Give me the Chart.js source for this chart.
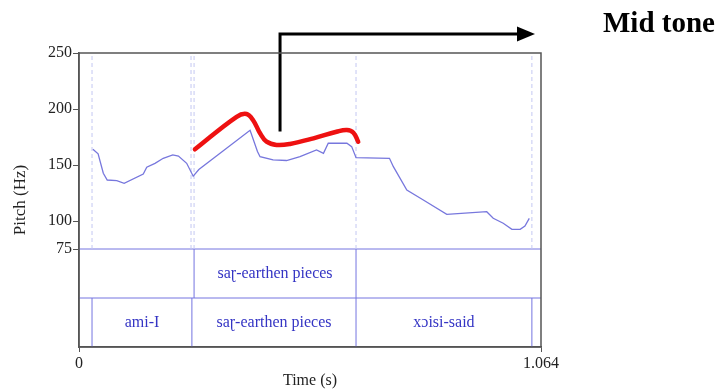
<!DOCTYPE html>
<html>
<head>
<meta charset="utf-8">
<script src="https://cdn.jsdelivr.net/npm/chart.js@4"></script>
<style>
  body { margin: 0; background: #fff; }
  canvas { display: block; }
</style>
</head>
<body>
<canvas id="pitch" width="725" height="392"></canvas>
<script>
// pitch track (s, Hz)
const pitchTime = [0.032, 0.044, 0.056, 0.065, 0.087, 0.104, 0.148, 0.156, 0.175, 0.194, 0.216, 0.229, 0.248, 0.263,
  0.276, 0.394, 0.411, 0.417, 0.447, 0.478, 0.509, 0.547, 0.563, 0.574, 0.617, 0.628, 0.638,
  0.715, 0.724, 0.755, 0.793, 0.847, 0.939, 0.954, 0.977, 0.997, 1.016, 1.027, 1.037];
const pitchHz = [164, 160, 142.6, 136.6, 136, 133.6, 142, 148, 151.5, 156, 159, 158, 151.5, 140,
  146, 181, 162, 157.4, 154.5, 154, 157.4, 163.4, 160.4, 169.4, 169.4, 166.4, 156.5,
  156, 148.5, 127.7, 118.8, 106, 108.3, 102.4, 98, 92.6, 92.6, 95.5, 102.4];

// hand-drawn red contour
const contourTime = [0.267, 0.363, 0.386, 0.401, 0.417, 0.432, 0.455, 0.486, 0.540, 0.593, 0.617, 0.632, 0.643];
const contourHz = [164, 193, 195.5, 190, 178.3, 170.8, 167.9, 168.8, 173.8, 179.7, 181.3, 178.8, 170.8];

// arrow pointing to the label
const arrowTime = [0.463, 0.463, 1.011];
const arrowHz = [180, 267, 267];

const yTicks = [250, 200, 150, 100, 75];
const xTicks = [0, 1.064];
const xTickLabels = ['0', '1.064'];

// textgrid
const tierTop = 75, tierMid = 31.25, yMin = -12.5, yMax = 250;
const pitchBounds = [0.030, 0.258, 0.265, 0.638, 1.043];
const tier1Bounds = [0.265, 0.638];
const tier1Labels = ['saɽ-earthen pieces'];
const tier2Bounds = [0.030, 0.260, 0.638, 1.043];
const tier2Labels = ['ami-I', 'saɽ-earthen pieces', 'xɔisi-said'];

const serif = '"Liberation Serif", "DejaVu Serif", serif';

const pts = (xs, ys) => xs.map((x, i) => ({x: x, y: ys[i]}));
const vline = (t, y0, y1, color, dash) => ({
  data: [{x: t, y: y0}, {x: t, y: y1}],
  borderColor: color, borderWidth: 1, borderDash: dash || [], pointRadius: 0
});

const datasets = [
  {data: pts(arrowTime, arrowHz), borderColor: '#000', borderWidth: 3, pointRadius: 0, clip: false},
  {data: pts(contourTime, contourHz), borderColor: '#ee1111', borderWidth: 4.5, pointRadius: 0, tension: 0.4,
   borderCapStyle: 'round'},
  {data: pts(pitchTime, pitchHz), borderColor: '#7777dd', borderWidth: 1.3, pointRadius: 0}
];
pitchBounds.forEach(t => datasets.push(vline(t, tierTop, yMax, '#c4c8f2', [4, 3])));
tier1Bounds.forEach(t => datasets.push(vline(t, tierMid, tierTop, '#7474e0')));
tier2Bounds.forEach(t => datasets.push(vline(t, yMin, tierMid, '#7474e0')));
[tierTop, tierMid].forEach(y => datasets.push({
  data: [{x: 0, y: y}, {x: 1.064, y: y}], borderColor: '#7474e0', borderWidth: 1, pointRadius: 0
}));

const extras = {
  id: 'extras',
  afterDatasetsDraw(chart) {
    const {ctx, chartArea: a, scales: {x, y}} = chart;
    ctx.save();
    ctx.strokeStyle = '#555';
    ctx.lineWidth = 1.5;
    ctx.strokeRect(a.left, a.top, a.right - a.left, a.bottom - a.top);

    // tier labels
    ctx.fillStyle = '#3434c4';
    ctx.font = '16px ' + serif;
    ctx.textAlign = 'center';
    ctx.textBaseline = 'middle';
    const y1 = y.getPixelForValue((tierTop + tierMid) / 2);
    tier1Labels.forEach((s, i) => {
      ctx.fillText(s, (x.getPixelForValue(tier1Bounds[i]) + x.getPixelForValue(tier1Bounds[i + 1])) / 2, y1);
    });
    const y2 = y.getPixelForValue((tierMid + yMin) / 2);
    tier2Labels.forEach((s, i) => {
      ctx.fillText(s, (x.getPixelForValue(tier2Bounds[i]) + x.getPixelForValue(tier2Bounds[i + 1])) / 2, y2);
    });

    // arrowhead
    const n = arrowTime.length - 1;
    const bx = x.getPixelForValue(arrowTime[n]);
    const by = y.getPixelForValue(arrowHz[n]);
    ctx.fillStyle = '#000';
    ctx.beginPath();
    ctx.moveTo(bx - 1, by - 7.5);
    ctx.lineTo(bx + 17, by);
    ctx.lineTo(bx - 1, by + 7.5);
    ctx.closePath();
    ctx.fill();

    ctx.font = 'bold 29px ' + serif;
    ctx.textAlign = 'left';
    ctx.textBaseline = 'alphabetic';
    ctx.fillText('Mid tone', 603, 32);
    ctx.restore();
  }
};

new Chart(document.getElementById('pitch'), {
  type: 'line',
  data: {datasets: datasets},
  options: {
    responsive: false,
    devicePixelRatio: 1,
    animation: false,
    layout: {padding: {top: 53, right: 184, left: 0, bottom: 0}},
    plugins: {legend: {display: false}, tooltip: {enabled: false}},
    scales: {
      x: {
        type: 'linear',
        min: 0,
        max: 1.064,
        afterBuildTicks: s => { s.ticks = xTicks.map(v => ({value: v})); },
        afterFit: s => { s.height = 45; },
        ticks: {
          autoSkip: false,
          maxRotation: 0,
          padding: 2,
          color: '#222',
          font: {family: serif, size: 16},
          callback: (v, i) => xTickLabels[i]
        },
        grid: {drawOnChartArea: false, tickLength: 5, color: '#555'},
        border: {color: '#555', width: 1.5},
        title: {display: true, text: 'Time (s)', color: '#222', font: {family: serif, size: 16}, padding: {top: 0, bottom: 2}}
      },
      y: {
        type: 'linear',
        min: yMin,
        max: yMax,
        afterBuildTicks: s => { s.ticks = yTicks.map(v => ({value: v})); },
        afterFit: s => { s.width = 79; },
        ticks: {
          autoSkip: false,
          padding: 1,
          color: '#222',
          font: {family: serif, size: 16}
        },
        grid: {drawOnChartArea: false, tickLength: 6, color: '#555'},
        border: {color: '#555', width: 1.5},
        title: {display: true, text: 'Pitch (Hz)', color: '#222', font: {family: serif, size: 17}, padding: {top: 10, bottom: 0}}
      }
    }
  },
  plugins: [extras]
});
</script>
</body>
</html>
